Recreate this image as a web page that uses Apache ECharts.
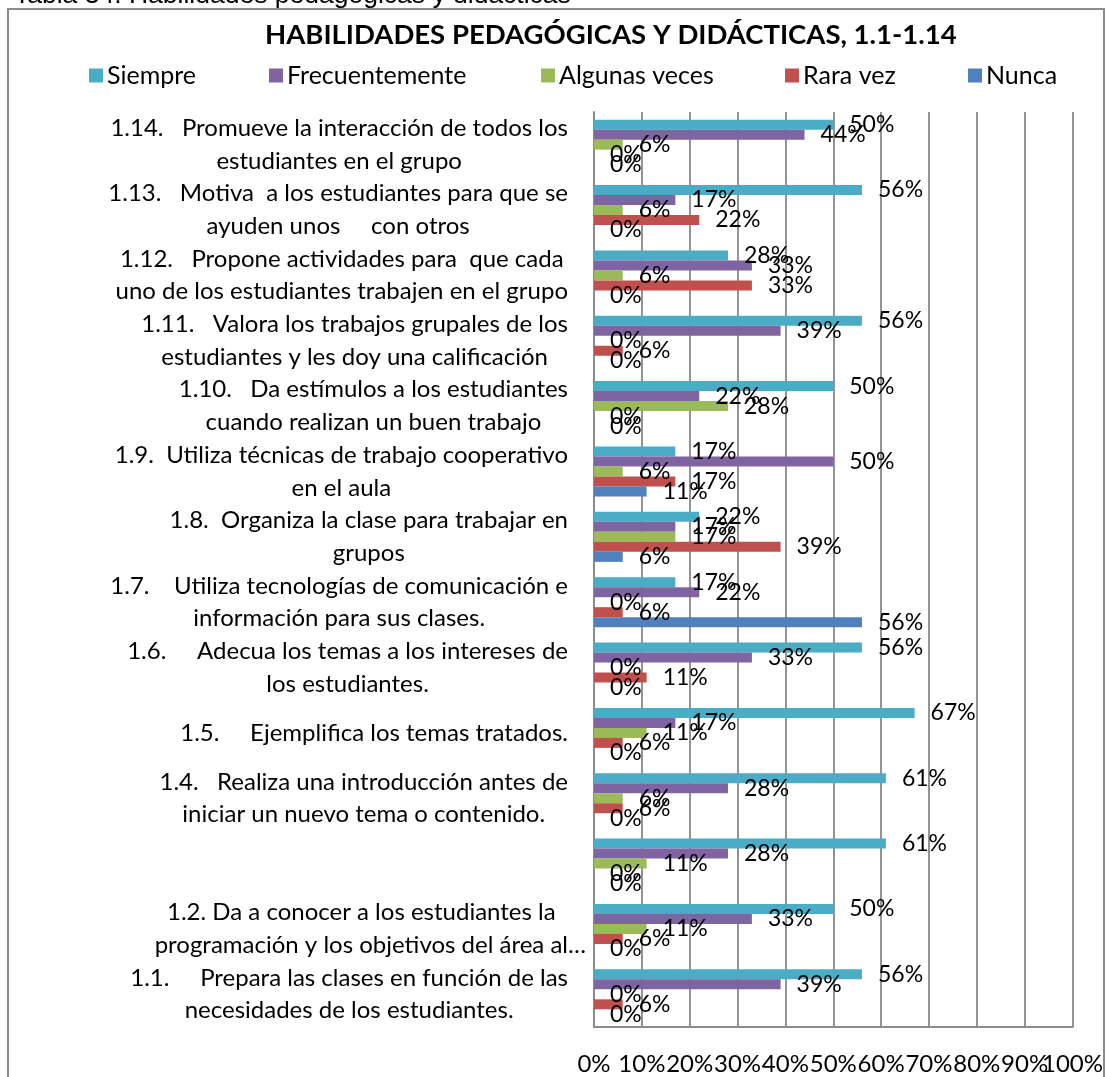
<!DOCTYPE html>
<html>
<head>
<meta charset="utf-8">
<script src="https://cdn.jsdelivr.net/npm/echarts@6/dist/echarts.min.js"></script>
<style>
  html, body { margin: 0; padding: 0; background: #ffffff; }
  #chart { width: 1106px; height: 1077px; }
</style>
</head>
<body>
<div id="chart"></div>
<script>
// Items listed top to bottom, as they appear on the vertical axis
const categories = [
  '1.14.   Promueve la interacción de todos los\nestudiantes en el grupo',
  '1.13.   Motiva  a los estudiantes para que se\nayuden unos     con otros',
  '1.12.   Propone actividades para  que cada\nuno de los estudiantes trabajen en el grupo',
  '1.11.   Valora los trabajos grupales de los\nestudiantes y les doy una calificación',
  '1.10.   Da estímulos a los estudiantes\ncuando realizan un buen trabajo',
  '1.9.  Utiliza técnicas de trabajo cooperativo\nen el aula',
  '1.8.  Organiza la clase para trabajar en\ngrupos',
  '1.7.    Utiliza tecnologías de comunicación e\ninformación para sus clases.',
  '1.6.     Adecua los temas a los intereses de\nlos estudiantes.',
  '1.5.     Ejemplifica los temas tratados.',
  '1.4.   Realiza una introducción antes de\niniciar un nuevo tema o contenido.',
  '',
  '1.2. Da a conocer a los estudiantes la\nprogramación y los objetivos del área al…',
  '1.1.     Prepara las clases en función de las\nnecesidades de los estudiantes.'
];

// Percent of answers per option, same order as categories
const siempre        = [50, 56, 28, 56, 50, 17, 22, 17, 56, 67, 61, 61, 50, 56];
const frecuentemente = [44, 17, 33, 39, 22, 50, 17, 22, 33, 17, 28, 28, 33, 39];
const algunasVeces   = [ 6,  6,  6,  0, 28,  6, 17,  0,  0, 11,  6, 11, 11,  0];
const raraVez        = [ 0, 22, 33,  6,  0, 17, 39,  6, 11,  6,  6,  0,  6,  6];
const nunca          = [ 0,  0,  0,  0,  0, 11,  6, 56,  0,  0,  0,  0,  0,  0];

// Labels under the percentage axis, one per gridline
const percentTickLabels = ['0%', '10%', '20%', '30%', '40%', '50%', '60%', '70%', '80%', '90%', '100%'];

const seriesNames = ['Siempre', 'Frecuentemente', 'Algunas veces', 'Rara vez', 'Nunca'];
const seriesData  = [siempre, frecuentemente, algunasVeces, raraVez, nunca];
const seriesColors = ['#4BACC6', '#8064A2', '#9BBB59', '#C0504D', '#4F81BD'];

const chartTitle = 'HABILIDADES PEDAGÓGICAS Y DIDÁCTICAS, 1.1-1.14';
const captionText = 'Tabla 34. Habilidades pedagógicas y didácticas';

const FONT = 'Lato, "Open Sans", sans-serif';
const legendLefts = [89, 269, 541, 785, 968];

const chart = echarts.init(document.getElementById('chart'), null, { renderer: 'canvas' });

const option = {
  animation: false,
  backgroundColor: '#ffffff',
  title: {
    text: chartTitle,
    left: 265,
    top: 21,
    padding: 0,
    textStyle: { fontFamily: FONT, fontWeight: 'bold', fontSize: 27.5, color: '#000000' }
  },
  legend: seriesNames.map((name, i) => ({
    data: [name],
    left: legendLefts[i],
    top: 63,
    padding: 0,
    icon: 'rect',
    itemWidth: 14,
    itemHeight: 14,
    itemGap: 6,
    selectedMode: false,
    textStyle: { fontFamily: FONT, fontSize: 25, color: '#000000', padding: [0, 0, 0, -1] }
  })),
  grid: { left: 594, right: 33, top: 112, bottom: 50, containLabel: false },
  xAxis: [
    {
      // value scale carrying the bars and the vertical gridlines
      type: 'value',
      min: 0,
      max: 100,
      interval: 10,
      axisLine: { show: true, lineStyle: { color: '#8c8c8c', width: 2 } },
      axisTick: { show: false },
      splitLine: { show: true, lineStyle: { color: '#939393', width: 2 } },
      axisLabel: { show: false }
    },
    {
      // evenly spaced tick labels; every one is kept even where neighbours touch
      type: 'category',
      position: 'bottom',
      boundaryGap: false,
      data: percentTickLabels,
      axisLine: { show: false },
      axisTick: { show: false },
      splitLine: { show: false },
      axisLabel: {
        interval: 0,
        margin: 25,
        fontFamily: FONT,
        fontSize: 24,
        color: '#000000'
      }
    }
  ],
  yAxis: {
    type: 'category',
    inverse: true,
    data: categories,
    axisLine: { show: true, lineStyle: { color: '#8c8c8c', width: 2 } },
    axisTick: { show: false },
    splitLine: { show: false },
    axisLabel: {
      interval: 0,
      margin: 8,
      align: 'right',
      formatter: function (value) {
        if (!value) return '';
        return value.split('\n')
          .map(line => (line.endsWith('…') ? '{w|' : '{c|') + line + '}')
          .join('\n');
      },
      rich: {
        c: { fontFamily: FONT, fontSize: 24, color: '#000000', lineHeight: 32.7, align: 'center', padding: [0, 18, 0, 0] },
        w: { fontFamily: FONT, fontSize: 24, color: '#000000', lineHeight: 32.7, align: 'center' }
      }
    }
  },
  series: seriesNames.map((name, i) => ({
    name: name,
    type: 'bar',
    xAxisIndex: 0,
    data: seriesData[i],
    barWidth: 10,
    barGap: '0%',
    itemStyle: { color: seriesColors[i] },
    label: {
      show: true,
      position: 'right',
      distance: 16,
      formatter: '{c}%',
      fontFamily: FONT,
      fontSize: 23,
      color: '#000000'
    },
    emphasis: { disabled: true }
  })),
  graphic: [
    {
      type: 'rect',
      silent: true,
      shape: { x: 8, y: 9, width: 1096, height: 1100 },
      style: { fill: 'none', stroke: '#8c8c8c', lineWidth: 2 }
    },
    {
      type: 'text',
      silent: true,
      left: 14,
      top: -18,
      style: { text: captionText, fontFamily: '"Liberation Sans", Arial, sans-serif', fontSize: 26.5, fill: '#000000' }
    }
  ]
};

chart.setOption(option);
</script>
</body>
</html>
